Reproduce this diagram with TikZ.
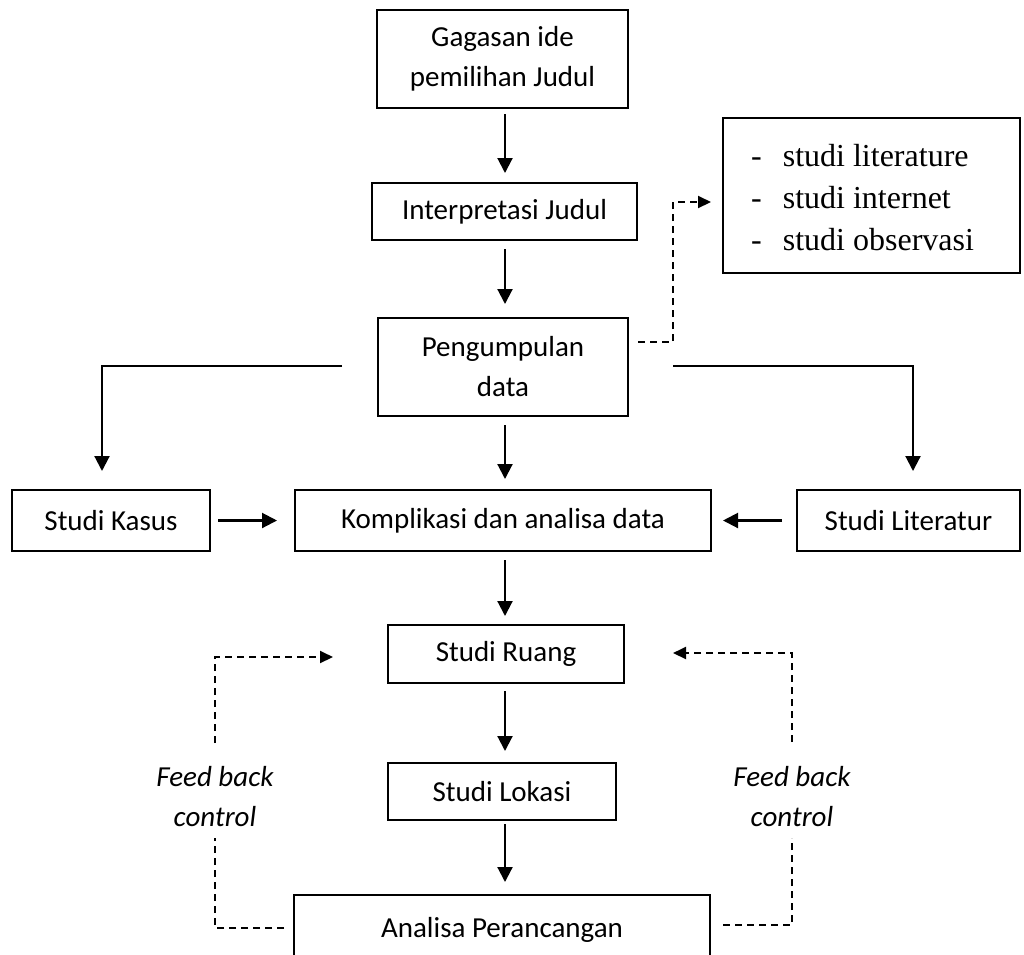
\documentclass[tikz,border=0pt]{standalone}
\usepackage{fontspec}
\setmainfont{Carlito}
\newfontfamily\timesf{Liberation Serif}
\usetikzlibrary{arrows.meta,calc}
\begin{document}
\begin{tikzpicture}[x=1pt,y=-1pt,
  box/.style={draw,line width=2pt,inner sep=0pt,align=center,font=\fontsize{29}{40}\selectfont},
  arr/.style={line width=2.1pt,-{Triangle[length=15pt,width=15pt]}},
  dsh/.style={line width=2pt,dash pattern=on 7pt off 5pt},
  dtip/.style={-{Triangle[length=13pt,width=12pt]}},
  fb/.style={align=center,inner sep=0pt,font=\fontsize{29}{40}\selectfont\itshape}
]
\useasboundingbox (0,0) rectangle (1024,954);
\node[box,minimum width=251pt,minimum height=98pt] (g) at (502.5,59) {Gagasan ide\\pemilihan Judul};
\node[box,minimum width=265pt,minimum height=57pt] (i) at (504.5,211.5) {Interpretasi Judul};
\node[box,minimum width=250pt,minimum height=98pt] (p) at (503,367) {Pengumpulan\\data};
\node[draw,line width=2pt,minimum width=297pt,minimum height=155pt,inner sep=0pt] (l) at (871.5,195.5) {};
\node[anchor=west,inner sep=0pt,font=\timesf\fontsize{32}{42}\selectfont] (lt) at (751,200)
  {\begin{tabular}{@{}l@{\hspace{21pt}}l@{}}-&studi literature\\-&studi internet\\-&studi observasi\end{tabular}};
\node[box,minimum width=198pt,minimum height=61pt] (k) at (111,520.5) {Studi Kasus};
\node[box,minimum width=416pt,minimum height=61pt] (c) at (503,520.5) {Komplikasi dan analisa data};
\node[box,minimum width=223pt,minimum height=61pt] (s) at (908.5,520.5) {Studi Literatur};
\node[box,minimum width=236pt,minimum height=58pt] (r) at (506,654) {Studi Ruang};
\node[box,minimum width=228pt,minimum height=57pt] (o) at (502,791.5) {Studi Lokasi};
\node[box,minimum width=416pt,minimum height=70pt] (a) at (502,930) {Analisa Perancangan};
\node[fb] (fbl) at (215,797) {Feed back\\control};
\node[fb] (fbr) at (792,797) {Feed back\\control};
\coordinate (ax) at (505,0);
\coordinate (kx) at (102,0);
\coordinate (sx) at (913,0);
\draw[arr,shorten <=5pt,shorten >=9pt] (g.south -| ax) -- (i.north -| ax);
\draw[arr,shorten <=8pt,shorten >=13pt] (i.south -| ax) -- (p.north -| ax);
\draw[arr,shorten <=8pt,shorten >=10pt] (p.south -| ax) -- (c.north -| ax);
\draw[arr,shorten <=8pt,shorten >=8pt] (c.south -| ax) -- (r.north -| ax);
\draw[arr,shorten <=7pt,shorten >=11pt] (r.south -| ax) -- (o.north -| ax);
\draw[arr,shorten <=3pt,shorten >=12pt] (o.south -| ax) -- (a.north -| ax);
\draw[arr,shorten >=18pt] ([xshift=-35pt,yshift=1pt]p.west) -| (k.north -| kx);
\draw[arr,shorten >=18pt] ([xshift=44pt,yshift=1pt]p.east) -| (s.north -| sx);
\draw[arr,shorten <=7pt,shorten >=17pt] (k.east) -- (c.west);
\draw[arr,shorten <=14pt,shorten >=11pt] (s.west) -- (c.east);
\draw[dsh,dtip] ([xshift=9pt,yshift=25pt]p.east) -| ($(l.west)+(-49,6.5)$) -- ([xshift=-11pt,yshift=-6.5pt]l.west);
\draw[dsh] ([xshift=-9pt,yshift=2pt]a.west) -| ([yshift=-41pt]fbl.center);
\draw[dsh,dtip] ([yshift=54pt]fbl.center) |- ([xshift=-54pt,yshift=-3pt]r.west);
\draw[dsh] ([xshift=12pt,yshift=5pt]a.east) -| ([yshift=-41pt]fbr.center);
\draw[dsh,dtip] ([yshift=55pt]fbr.center) |- ([xshift=48pt,yshift=1pt]r.east);
\end{tikzpicture}
\end{document}
